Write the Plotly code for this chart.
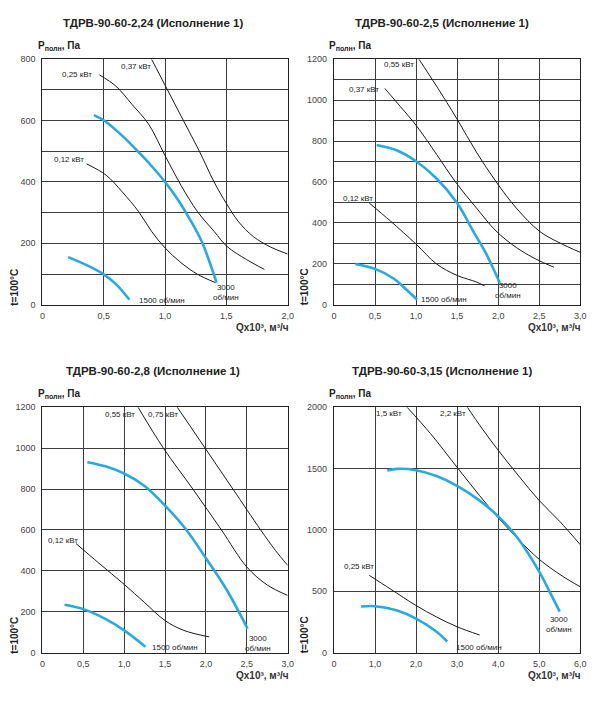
import plotly.graph_objects as go

W, H = 602, 706
FONT = "Liberation Sans, Arial, sans-serif"
CYAN = "#27aae1"
BLACK = "#1a1a1a"
GRID = "#3c3c3c"

# ---------------- Panel 1: ТДРВ-90-60-2,24 ----------------
p1_title = "ТДРВ-90-60-2,24 (Исполнение 1)"
p1_x_ticks = [0, 0.5, 1.0, 1.5, 2.0]
p1_x_labels = ["0", "0,5", "1,0", "1,5", "2,0"]
p1_y_ticks = [0, 200, 400, 600, 800]
p1_y_labels = ["0", "200", "400", "600", "800"]
p1_y_grid = [100, 300, 500, 700]
p1_q_012 = [0.36, 0.52, 0.65, 0.785, 0.89, 1.0, 1.13, 1.265, 1.41]
p1_p_012 = [459, 422, 368, 303, 239, 185, 137, 99, 72]
p1_q_025 = [0.465, 0.60, 0.73, 0.865, 1.0, 1.13, 1.265, 1.40, 1.505, 1.665, 1.81]
p1_p_025 = [749, 712, 653, 589, 486, 389, 303, 239, 190, 147, 115]
p1_q_037 = [0.89, 1.02, 1.15, 1.28, 1.40, 1.50, 1.60, 1.72, 1.86, 2.0]
p1_p_037 = [800, 700, 600, 500, 400, 330, 270, 222, 188, 165]
p1_q_3000 = [0.42, 0.50, 0.65, 0.785, 0.89, 1.0, 1.10, 1.20, 1.30, 1.42]
p1_p_3000 = [618, 601, 551, 497, 452, 400, 345, 280, 205, 72]
p1_q_1500 = [0.21, 0.36, 0.50, 0.60, 0.71]
p1_p_1500 = [155, 129, 99, 67, 16]

# ---------------- Panel 2: ТДРВ-90-60-2,5 ----------------
p2_title = "ТДРВ-90-60-2,5 (Исполнение 1)"
p2_x_ticks = [0, 0.5, 1.0, 1.5, 2.0, 2.5, 3.0]
p2_x_labels = ["0", "0,5", "1,0", "1,5", "2,0", "2,5", "3,0"]
p2_y_ticks = [0, 200, 400, 600, 800, 1000, 1200]
p2_y_labels = ["0", "200", "400", "600", "800", "1000", "1200"]
p2_y_grid = [100, 300, 500, 700, 900, 1100]
p2_q_012 = [0.43, 0.69, 1.0, 1.25, 1.50, 1.735, 1.835]
p2_p_012 = [497, 408, 296, 199, 143, 111, 92]
p2_q_037 = [0.62, 0.81, 1.0, 1.25, 1.48, 1.735, 1.975, 2.22, 2.46, 2.68]
p2_p_037 = [1057, 968, 877, 735, 600, 473, 360, 280, 223, 183]
p2_q_055 = [1.035, 1.25, 1.50, 1.735, 1.975, 2.22, 2.50, 2.74, 3.0]
p2_p_055 = [1200, 1068, 907, 746, 601, 473, 360, 304, 256]
p2_q_3000 = [0.52, 0.77, 1.0, 1.25, 1.50, 1.695, 1.855, 2.02]
p2_p_3000 = [781, 754, 701, 617, 497, 360, 248, 106]
p2_q_1500 = [0.26, 0.50, 0.73, 0.89, 1.01]
p2_p_1500 = [199, 175, 127, 71, 26]

# ---------------- Panel 3: ТДРВ-90-60-2,8 ----------------
p3_title = "ТДРВ-90-60-2,8 (Исполнение 1)"
p3_x_ticks = [0, 0.5, 1.0, 1.5, 2.0, 2.5, 3.0]
p3_x_labels = ["0", "0,5", "1,0", "1,5", "2,0", "2,5", "3,0"]
p3_y_ticks = [0, 200, 400, 600, 800, 1000, 1200]
p3_y_labels = ["0", "200", "400", "600", "800", "1000", "1200"]
p3_y_grid = []
p3_q_012 = [0.41, 0.69, 1.0, 1.25, 1.50, 1.73, 2.04]
p3_p_012 = [534, 438, 334, 245, 157, 109, 77]
p3_q_055 = [1.17, 1.48, 1.84, 2.19, 2.50, 2.75, 3.0]
p3_p_055 = [1200, 1000, 800, 600, 419, 331, 280]
p3_q_075 = [1.65, 1.99, 2.33, 2.67, 2.85, 3.0]
p3_p_075 = [1200, 1000, 800, 600, 500, 427]
p3_q_3000 = [0.55, 0.77, 1.0, 1.25, 1.50, 1.75, 2.0, 2.25, 2.51]
p3_p_3000 = [931, 911, 876, 815, 719, 606, 462, 310, 117]
p3_q_1500 = [0.27, 0.50, 0.77, 1.0, 1.26]
p3_p_1500 = [234, 213, 165, 109, 29]

# ---------------- Panel 4: ТДРВ-90-60-3,15 ----------------
p4_title = "ТДРВ-90-60-3,15 (Исполнение 1)"
p4_x_ticks = [0, 1, 2, 3, 4, 5, 6]
p4_x_labels = ["0", "1,0", "2,0", "3,0", "4,0", "5,0", "6,0"]
p4_y_ticks = [0, 500, 1000, 1500, 2000]
p4_y_labels = ["0", "500", "1000", "1500", "2000"]
p4_y_grid = []
p4_q_025 = [0.86, 1.38, 2.0, 2.5, 3.0, 3.55]
p4_p_025 = [630, 518, 384, 291, 211, 144]
p4_q_15 = [1.78, 2.35, 3.01, 3.55, 4.02, 4.51, 5.01, 5.56, 6.0]
p4_p_15 = [2000, 1786, 1506, 1279, 1092, 918, 758, 625, 537]
p4_q_22 = [3.25, 3.6, 4.0, 4.5, 5.0, 5.5, 6.0]
p4_p_22 = [2000, 1830, 1650, 1440, 1240, 1070, 880]
p4_q_3000 = [1.30, 1.54, 2.0, 2.5, 3.0, 3.55, 4.02, 4.51, 5.0, 5.25, 5.5]
p4_p_3000 = [1484, 1498, 1487, 1439, 1359, 1239, 1105, 918, 660, 500, 335]
p4_q_1500 = [0.66, 1.0, 1.54, 2.0, 2.5, 2.76]
p4_p_1500 = [376, 379, 344, 278, 171, 91]

# curve labels: (text, q, p, xanchor)
p1_labels = [("0,37 кВт", 0.76, 776, "center"), ("0,25 кВт", 0.28, 749, "center"),
             ("0,12 кВт", 0.22, 473, "center"), ("1500 об/мин", 0.77, 15, "left"),
             ("3000<br>об/мин", 1.50, 40, "center")]
p2_labels = [("0,55 кВт", 0.79, 1172, "center"), ("0,37 кВт", 0.37, 1051, "center"),
             ("0,12 кВт", 0.29, 518, "center"), ("1500 об/мин", 1.04, 26, "left"),
             ("3000<br>об/мин", 2.12, 69, "center")]
p3_labels = [("0,55 кВт", 0.95, 1163, "center"), ("0,75 кВт", 1.48, 1163, "center"),
             ("0,12 кВт", 0.25, 550, "center"), ("1500 об/мин", 1.32, 26, "left"),
             ("3000<br>об/мин", 2.64, 46, "center")]
p4_labels = [("1,5 кВт", 1.34, 1946, "center"), ("2,2 кВт", 2.9, 1946, "center"),
             ("0,25 кВт", 0.62, 705, "center"), ("1500 об/мин", 2.92, 45, "left"),
             ("3000<br>об/мин", 5.48, 231, "center")]

# panel geometry in pixels: (left, right, top, bottom)
panels = [
    dict(box=(40, 289, 55, 304), title=p1_title, xr=[0, 2], yr=[0, 800],
         xt=p1_x_ticks, xl=p1_x_labels, yt=p1_y_ticks, yl=p1_y_labels, yg=p1_y_grid,
         black=[(p1_q_012, p1_p_012), (p1_q_025, p1_p_025), (p1_q_037, p1_p_037)],
         cyan=[(p1_q_3000, p1_p_3000), (p1_q_1500, p1_p_1500)], labels=p1_labels),
    dict(box=(336, 586, 55, 304), title=p2_title, xr=[0, 3], yr=[0, 1200],
         xt=p2_x_ticks, xl=p2_x_labels, yt=p2_y_ticks, yl=p2_y_labels, yg=p2_y_grid,
         black=[(p2_q_012, p2_p_012), (p2_q_037, p2_p_037), (p2_q_055, p2_p_055)],
         cyan=[(p2_q_3000, p2_p_3000), (p2_q_1500, p2_p_1500)], labels=p2_labels),
    dict(box=(40, 289, 408, 657), title=p3_title, xr=[0, 3], yr=[0, 1200],
         xt=p3_x_ticks, xl=p3_x_labels, yt=p3_y_ticks, yl=p3_y_labels, yg=p3_y_grid,
         black=[(p3_q_012, p3_p_012), (p3_q_055, p3_p_055), (p3_q_075, p3_p_075)],
         cyan=[(p3_q_3000, p3_p_3000), (p3_q_1500, p3_p_1500)], labels=p3_labels),
    dict(box=(336, 586, 408, 657), title=p4_title, xr=[0, 6], yr=[0, 2000],
         xt=p4_x_ticks, xl=p4_x_labels, yt=p4_y_ticks, yl=p4_y_labels, yg=p4_y_grid,
         black=[(p4_q_025, p4_p_025), (p4_q_15, p4_p_15), (p4_q_22, p4_p_22)],
         cyan=[(p4_q_3000, p4_p_3000), (p4_q_1500, p4_p_1500)], labels=p4_labels),
]


def px(x):
    return x / W


def py(y):
    return 1 - y / H


fig = go.Figure()
layout = dict(width=W, height=H, margin=dict(l=0, r=0, t=0, b=0),
              paper_bgcolor="white", plot_bgcolor="white", showlegend=False,
              font=dict(family=FONT, color="#333"))
annotations = []

for i, p in enumerate(panels, start=1):
    suffix = "" if i == 1 else str(i)
    xa, ya = "x" + suffix, "y" + suffix
    l, r, t, b = p["box"]
    common = dict(ticks="", showgrid=True, gridcolor=GRID, gridwidth=1.2, zeroline=False,
                  showline=True, linecolor="#222", linewidth=1.2, mirror=True,
                  tickfont=dict(size=9, color="#444", family=FONT), fixedrange=True)
    layout["xaxis" + suffix] = dict(domain=[px(l), px(r)], range=p["xr"], anchor=ya,
                                    tickvals=p["xt"], ticktext=p["xl"],
                                    ticklabelstandoff=2, **common)
    yax = dict(domain=[py(b), py(t)], range=p["yr"], anchor=xa,
               tickvals=p["yt"], ticktext=p["yl"], ticklabelstandoff=4, **common)
    if p["yg"]:
        yax["minor"] = dict(tickvals=p["yg"], showgrid=True, gridcolor=GRID,
                            gridwidth=1.2, ticks="")
    layout["yaxis" + suffix] = yax

    for q, pv in p["black"]:
        fig.add_trace(go.Scatter(x=q, y=pv, mode="lines", xaxis=xa, yaxis=ya,
                                 line=dict(color=BLACK, width=1, shape="spline", smoothing=1.0),
                                 hoverinfo="skip"))
    for q, pv in p["cyan"]:
        fig.add_trace(go.Scatter(x=q, y=pv, mode="lines", xaxis=xa, yaxis=ya,
                                 line=dict(color=CYAN, width=2.6, shape="spline", smoothing=1.0),
                                 hoverinfo="skip"))

    for text, q, pv, anc in p["labels"]:
        annotations.append(dict(text=text, x=q, y=pv, xref=xa, yref=ya, showarrow=False,
                                xanchor=anc, yanchor="middle", align="center",
                                font=dict(size=8, color="#222", family=FONT)))

    # title
    annotations.append(dict(text="<b>" + p["title"] + "</b>", x=px(152 if l < 300 else 446),
                            y=py(t - 37), xref="paper", yref="paper", showarrow=False,
                            xanchor="center", yanchor="middle",
                            font=dict(size=11.5, color="#222", family=FONT)))
    # y-axis title
    annotations.append(dict(text="<b>P<sub>полн</sub>, Па</b>", x=px(l - 7), y=py(t - 13),
                            xref="paper", yref="paper", showarrow=False,
                            xanchor="left", yanchor="middle",
                            font=dict(size=10, color="#222", family=FONT)))
    # rotated side label
    annotations.append(dict(text="<b>t=100°C</b>", x=px(l - 28 if l < 300 else l - 29),
                            y=py(b - 18), xref="paper", yref="paper", showarrow=False,
                            textangle=-90, xanchor="center", yanchor="middle",
                            font=dict(size=10, color="#222", family=FONT)))
    # x-axis title
    annotations.append(dict(text="<b>Qx10³, м³/ч</b>", x=px(r + 3), y=py(b + 23),
                            xref="paper", yref="paper", showarrow=False,
                            xanchor="right", yanchor="middle",
                            font=dict(size=10, color="#333", family=FONT)))

layout["annotations"] = annotations
fig.update_layout(**layout)
fig.write_html("out.html", config={"displayModeBar": False},
               post_script="document.body.style.margin='0';document.body.style.overflow='hidden';")
